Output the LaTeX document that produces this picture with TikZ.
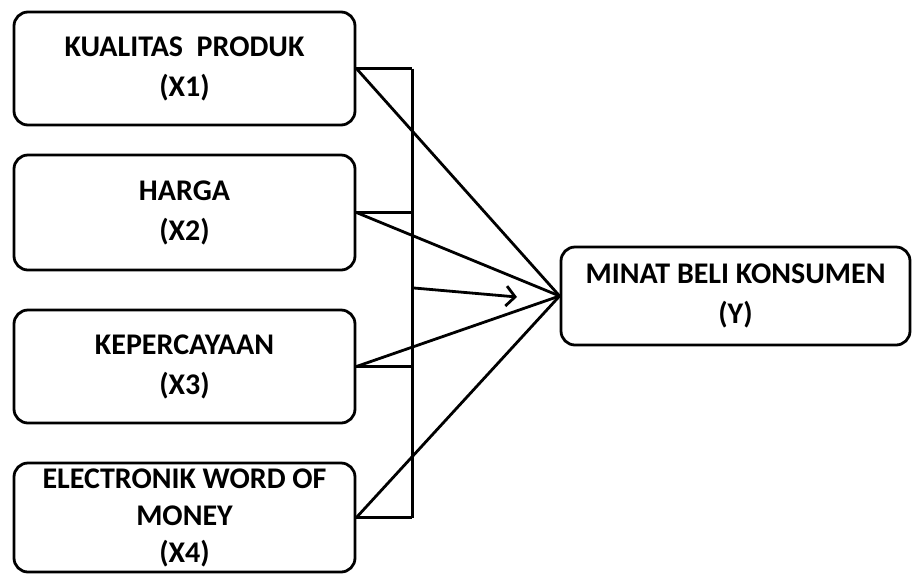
\documentclass[tikz,border=0pt]{standalone}
\usepackage{fontspec}
\setmainfont{Carlito}
\usetikzlibrary{positioning}
\usetikzlibrary{calc,arrows.meta}

\tikzset{
varbox/.style={shape=rectangle,draw,rounded corners=14pt,line width=2.8pt,
  minimum width=341pt,align=center,font=\bfseries\fontsize{30}{40}\selectfont,inner sep=0pt},
link/.style={line width=2.8pt}
}

\begin{document}
\begin{tikzpicture}[x=1pt,y=-1pt]
\useasboundingbox (0,0) rectangle (912,574);
\path
(184.5,68.5) node [varbox,minimum height=113pt](xa) {KUALITAS\ \ PRODUK\\(X1)}
(184.5,212.5) node [varbox,minimum height=115pt](xb) {HARGA\\(X2)}
(184.5,366.5) node [varbox,minimum height=113pt](xc) {KEPERCAYAAN\\(X3)}
(184.5,517.5) node [varbox,minimum height=109pt,font=\bfseries\fontsize{30}{37}\selectfont](xd) {ELECTRONIK WORD OF\\MONEY\\(X4)}
(735.5,296) node [varbox,minimum width=349pt,minimum height=98pt](y) {MINAT BELI KONSUMEN\\(Y)};
\draw [link](xa.east) --++(56,0) coordinate (ta);
\draw [link](xb.east) --++(56,0) coordinate (tb);
\draw [link](xc.east) --++(56,0) coordinate (tc);
\draw [link](xd.east) --++(56,0) coordinate (td);
\draw [link](ta) --(td);
\draw [link](xa.east) --(y.west);
\draw [link](xb.east) --(y.west);
\draw [link](xc.east) --(y.west);
\draw [link](xd.east) --(y.west);
\coordinate (sa) at (414,288);
\coordinate (sb) at (517,297);
\draw [link,-{Straight Barb[length=9pt,width=20pt]}](sa) --(sb);

\end{tikzpicture}
\end{document}
